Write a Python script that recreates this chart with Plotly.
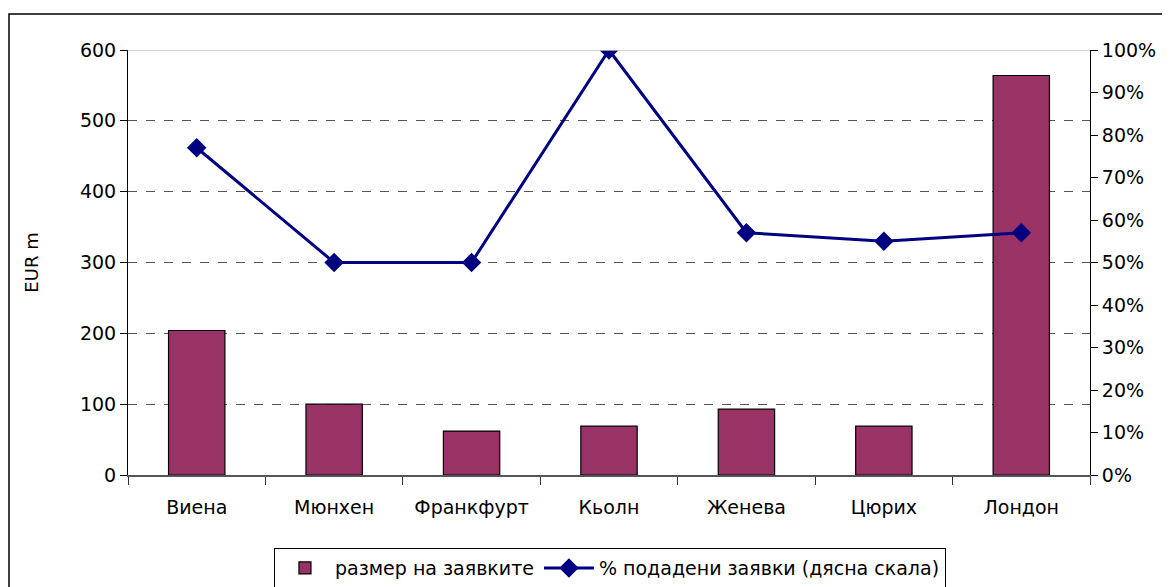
import plotly.graph_objects as go

cities = ["Виена", "Мюнхен", "Франкфурт", "Кьолн", "Женева", "Цюрих", "Лондон"]
size_eur_m = [204, 100, 62, 69, 93, 69, 564]
pct_submitted = [0.77, 0.50, 0.50, 1.00, 0.57, 0.55, 0.57]

bar_name = "размер на заявките"
line_name = "% подадени заявки (дясна скала)"

FONT = "DejaVu Sans, Liberation Sans, Arial, sans-serif"
FS = 19

fig = go.Figure()
fig.add_trace(go.Bar(
    x=cities, y=size_eur_m, name=bar_name,
    marker=dict(color="#993366", line=dict(color="black", width=1.2)),
    width=0.41, yaxis="y",
))
fig.add_trace(go.Scatter(
    x=cities, y=pct_submitted, name=line_name, yaxis="y2",
    mode="lines+markers",
    line=dict(color="#000080", width=3),
    marker=dict(symbol="diamond", size=15, color="#000080"),
))

# page body has an 8px margin: plot area target x 128..1090, y 50..475 on the page
fig.update_layout(
    width=1162, height=579,
    margin=dict(l=120, r=80, t=42, b=112, autoexpand=False),
    paper_bgcolor="white", plot_bgcolor="white",
    font=dict(family=FONT, size=FS, color="black"),
    showlegend=True,
    legend=dict(
        orientation="h", x=0.501, xanchor="center", y=-0.172, yanchor="top",
        bordercolor="black", borderwidth=1, font=dict(size=FS),
        itemwidth=50, tracegroupgap=0,
    ),
    xaxis=dict(
        type="category", showline=True, linecolor="#555", linewidth=1.5,
        ticks="outside", ticklen=8, tickcolor="#333", tickson="boundaries",
        showgrid=False, tickfont=dict(size=FS), ticklabelstandoff=14,
    ),
    yaxis=dict(
        range=[0, 600], dtick=100, showline=True, linecolor="black", linewidth=1,
        ticks="outside", ticklen=7, tickcolor="black",
        showgrid=True, gridcolor="#555", griddash="dash", gridwidth=1,
        zeroline=False,
        title=dict(text="EUR m", font=dict(size=18), standoff=36),
        tickfont=dict(size=FS),
    ),
    yaxis2=dict(
        range=[0, 1], dtick=0.1, tickformat=".0%", overlaying="y", side="right",
        showline=True, linecolor="black", linewidth=1,
        ticks="outside", ticklen=7, tickcolor="black", showgrid=False,
        zeroline=False, tickfont=dict(size=FS),
    ),
    shapes=[
        dict(type="line", xref="paper", yref="y", x0=0, x1=1, y0=600, y1=600,
             line=dict(color="#c8c8c8", width=1.5), layer="above"),
        dict(type="rect", xref="paper", yref="paper",
             x0=-0.1237, x1=1.095, y0=-0.30, y1=1.0847,
             line=dict(color="black", width=1.5), layer="below"),
    ],
)

fig.write_html("out.html")
